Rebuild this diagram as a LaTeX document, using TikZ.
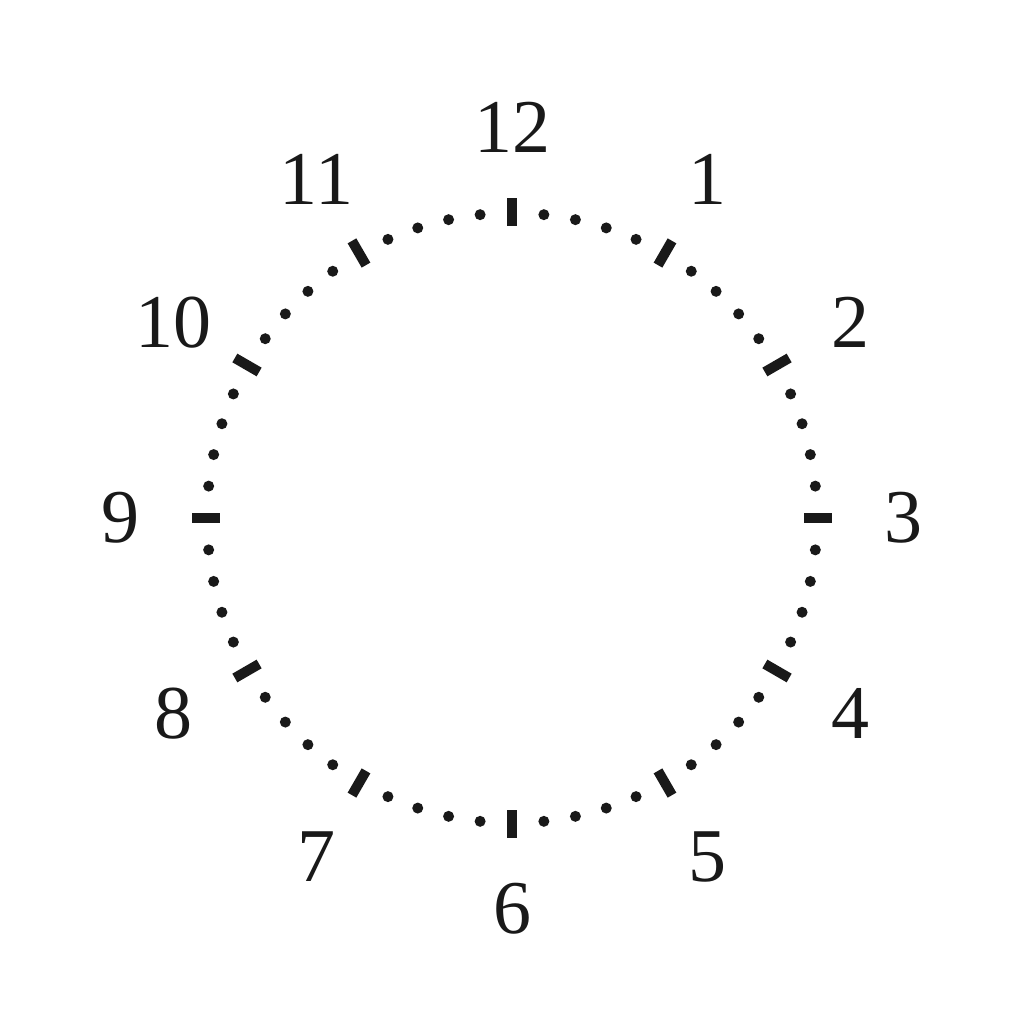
\documentclass[tikz,border=0pt]{standalone}
\usepackage{fontspec}
\setmainfont{Liberation Serif}
\begin{document}
\begin{tikzpicture}[x=1pt,y=1pt,
  tickmark/.style={line width=10pt,draw=black!90},
  dotmark/.style={fill=black!90},
  hournum/.style={font=\fontsize{76}{90}\selectfont,text=black!90,inner sep=0pt}]
\useasboundingbox (-512,-506) rectangle (512,518);
\fill[white] (-512,-506) rectangle (512,518);
\foreach \m in {0,...,59}{
  \pgfmathtruncatemacro{\r}{mod(\m,5)}
  \ifnum\r=0
    \draw[tickmark] ({90-6*\m}:292) -- ({90-6*\m}:320);
  \else
    \fill[dotmark] ({90-6*\m}:305) circle (5.5);
  \fi
}
\foreach \h in {1,...,12}{
  \node[hournum] (h\h) at ({90-30*\h}:391) {\h};
}
\end{tikzpicture}
\end{document}
